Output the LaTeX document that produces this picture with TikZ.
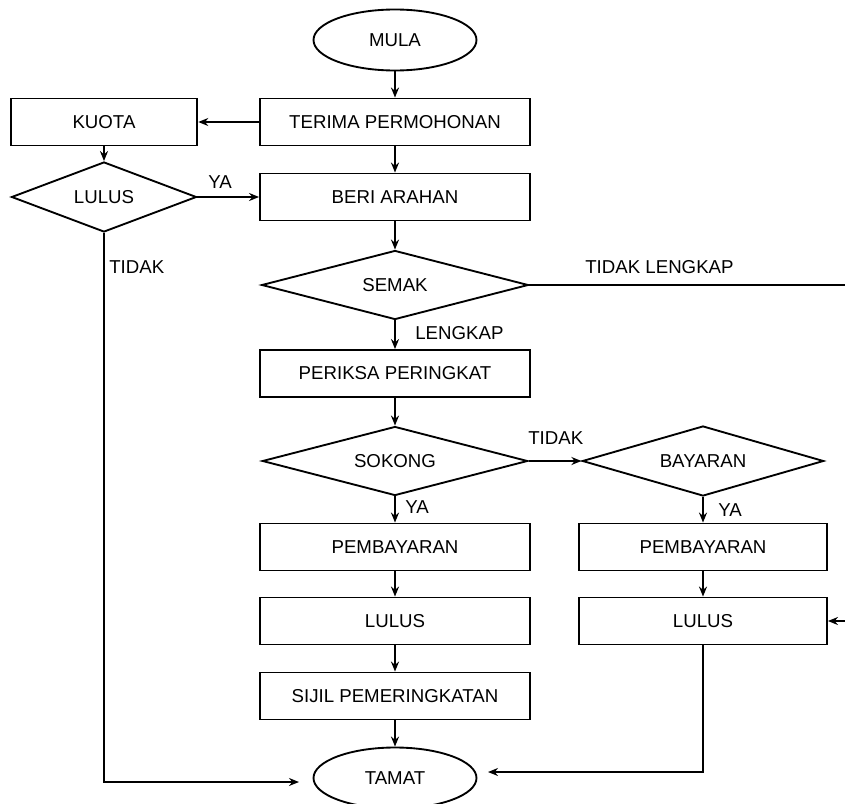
\documentclass[tikz,border=0pt]{standalone}
\usepackage{fontspec}
\setmainfont{Liberation Sans}
\usetikzlibrary{shapes.geometric,arrows.meta}
\begin{document}
\begin{tikzpicture}[x=0.75pt,y=-0.75pt,
  every node/.style={font=\fontsize{14}{16}\selectfont},
  box/.style={draw,line width=1.4pt,rectangle,minimum width=202.5pt,minimum height=35.25pt,inner sep=0pt},
  rbox/.style={box,minimum width=186pt},
  term/.style={draw,line width=1.4pt,ellipse,minimum width=122.25pt,minimum height=45.75pt,inner sep=0pt},
  dec/.style={draw,line width=1.4pt,diamond,aspect=3.8,inner sep=0pt},
  lbl/.style={anchor=west,inner sep=0pt},
  conn/.style={line width=1.4pt},
  arr/.style={conn,-{Stealth[length=7.5pt,width=6pt]}}]
\useasboundingbox (0,0) rectangle (845,803);
% nodes
\node[term] (mula) at (395,40) {MULA};
\node[box] (terima) at (395,122) {TERIMA PERMOHONAN};
\node[box,minimum width=140pt] (kuota) at (104,122) {KUOTA};
\node[dec,minimum width=138.75pt,minimum height=52.5pt] (lulusd) at (104,197) {LULUS};
\node[box] (beri) at (395,197) {BERI ARAHAN};
\node[dec,minimum width=200pt,minimum height=51.75pt] (semak) at (395,285) {SEMAK};
\node[box] (periksa) at (395,373.5) {PERIKSA PERINGKAT};
\node[dec,minimum width=199pt,minimum height=51.75pt] (sokong) at (395,461) {SOKONG};
\node[dec,minimum width=181pt,minimum height=52.5pt] (bayaran) at (703,461) {BAYARAN};
\node[box] (pemb) at (395,547) {PEMBAYARAN};
\node[rbox] (pemb2) at (703,547) {PEMBAYARAN};
\node[box] (lulus) at (395,621) {LULUS};
\node[rbox] (lulus2) at (703,621) {LULUS};
\node[box] (sijil) at (395,696) {SIJIL PEMERINGKATAN};
\node[term] (tamat) at (395,778) {TAMAT};
% labels
\node[lbl] (lya1) at (208,182) {YA};
\node[lbl] (ltidak1) at (109,267) {TIDAK};
\node[lbl] (ltl) at (585,267) {TIDAK LENGKAP};
\node[lbl] (lleng) at (415,333) {LENGKAP};
\node[lbl] (ltidak2) at (528,438) {TIDAK};
\node[lbl] (lya2) at (405,507) {YA};
\node[lbl] (lya3) at (718,510) {YA};
% coordinates
\coordinate (tinl) at (299,782);
\coordinate (tinr) at (488,772);
\coordinate (edge1) at (846,285);
\coordinate (edge2) at (846,621);
% connectors
\draw[arr] (mula) -- (terima);
\draw[arr] (terima) -- (beri);
\draw[arr] (terima.west) -- (kuota.east);
\draw[arr] (kuota) -- (lulusd);
\draw[arr] (lulusd.east) -- (beri.west);
\draw[arr] (beri) -- (semak);
\draw[conn] (semak.east) -- (edge1);
\draw[arr] (semak) -- (periksa);
\draw[arr] (periksa) -- (sokong);
\draw[arr] (sokong.east) -- (bayaran.west);
\draw[arr] (sokong) -- (pemb);
\draw[arr] (bayaran) -- (pemb2);
\draw[arr] (pemb) -- (lulus);
\draw[arr] (pemb2) -- (lulus2);
\draw[arr] (lulus) -- (sijil);
\draw[arr] (sijil) -- (tamat);
\draw[arr] (edge2) -- (lulus2.east);
\draw[arr] (lulusd.south) |- (tinl);
\draw[arr] (lulus2.south) |- (tinr);
\end{tikzpicture}
\end{document}
